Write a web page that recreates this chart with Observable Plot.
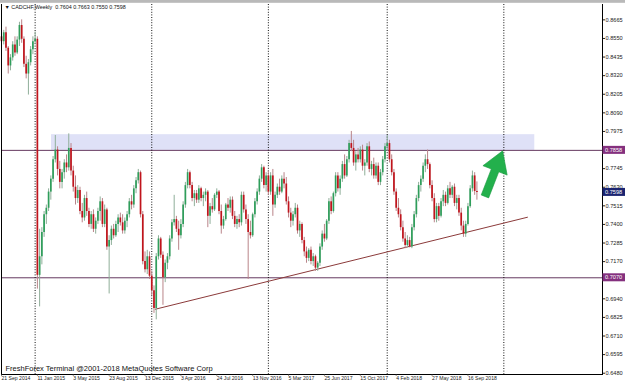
<!DOCTYPE html>
<html><head><meta charset="utf-8">
<script src="https://cdn.jsdelivr.net/npm/d3@7"></script>
<script src="https://cdn.jsdelivr.net/npm/@observablehq/plot@0.6"></script>
<style>html,body{margin:0;padding:0;background:#fff;overflow:hidden}#chart svg{display:block}</style>
</head><body><div id="chart"></div>
<script>
// Weekly candles, index 0 = week of 21 Sep 2014
const O = [
.8560,.8530,.8585,.8490,.8380,.8430,.8510,.8460,.8540,.8630,
.8545,.8390,.8330,.8400,.8480,.8530,.8545,.7085,.7200,.7350,
.7460,.7500,.7600,.7680,.7800,.7860,.7740,.7660,.7720,.7780,
.7750,.7870,.7730,.7630,.7560,.7610,.7480,.7440,.7560,.7480,
.7400,.7460,.7370,.7420,.7480,.7540,.7400,.7490,.7260,.7300,
.7370,.7330,.7400,.7440,.7410,.7360,.7420,.7460,.7540,.7520,
.7620,.7670,.7720,.7460,.7170,.7120,.7200,.7080,.6990,.6880,
.7200,.7310,.7210,.7070,.7160,.7200,.7310,.7410,.7430,.7370,
.7330,.7400,.7520,.7640,.7720,.7640,.7560,.7590,.7550,.7620,
.7560,.7580,.7600,.7450,.7510,.7490,.7580,.7600,.7480,.7390,
.7430,.7520,.7500,.7550,.7450,.7400,.7430,.7410,.7580,.7490,
.7430,.7350,.7330,.7460,.7540,.7600,.7680,.7750,.7640,.7700,
.7600,.7700,.7520,.7580,.7630,.7600,.7680,.7650,.7540,.7470,
.7420,.7460,.7500,.7360,.7400,.7300,.7230,.7190,.7240,.7170,
.7200,.7130,.7160,.7260,.7340,.7310,.7420,.7540,.7480,.7590,
.7700,.7620,.7680,.7770,.7700,.7800,.7900,.7870,.7780,.7830,
.7800,.7860,.7760,.7780,.7880,.7740,.7770,.7700,.7760,.7660,
.7720,.7800,.7880,.7900,.7800,.7720,.7600,.7500,.7460,.7380,
.7310,.7270,.7300,.7260,.7380,.7460,.7560,.7640,.7680,.7760,
.7800,.7770,.7640,.7560,.7430,.7510,.7450,.7540,.7580,.7530,
.7620,.7580,.7630,.7530,.7560,.7470,.7390,.7340,.7400,.7510,
.7620,.7700,.7604];
const H = [
.8610,.8600,.8620,.8500,.8450,.8530,.8560,.8560,.8650,.8665,
.8560,.8440,.8420,.8500,.8560,.8590,.8560,.7370,.7380,.7480,
.7520,.7620,.7700,.7820,.7950,.7880,.7790,.7740,.7800,.7830,
.7960,.7900,.7760,.7700,.7640,.7630,.7530,.7580,.7600,.7500,
.7480,.7490,.7440,.7500,.7570,.7560,.7520,.7500,.7330,.7390,
.7400,.7420,.7460,.7470,.7460,.7440,.7480,.7560,.7580,.7640,
.7690,.7740,.7730,.7480,.7230,.7240,.7230,.7110,.7020,.7220,
.7330,.7320,.7230,.7180,.7220,.7330,.7430,.7580,.7450,.7420,
.7430,.7540,.7660,.7740,.7730,.7660,.7610,.7610,.7640,.7630,
.7600,.7620,.7610,.7530,.7560,.7590,.7620,.7610,.7520,.7450,
.7530,.7560,.7570,.7570,.7480,.7450,.7460,.7600,.7600,.7520,
.7460,.7420,.7470,.7560,.7620,.7700,.7770,.7760,.7720,.7730,
.7720,.7740,.7600,.7650,.7680,.7700,.7720,.7690,.7570,.7500,
.7480,.7530,.7520,.7420,.7410,.7320,.7260,.7250,.7260,.7220,
.7210,.7170,.7280,.7360,.7400,.7430,.7560,.7570,.7600,.7720,
.7720,.7700,.7790,.7830,.7820,.7920,.7975,.7920,.7850,.7870,
.7880,.7890,.7800,.7900,.7910,.7790,.7810,.7780,.7780,.7740,
.7820,.7900,.7950,.7920,.7830,.7740,.7620,.7560,.7490,.7420,
.7350,.7330,.7320,.7400,.7480,.7580,.7660,.7700,.7780,.7830,
.7860,.7780,.7670,.7590,.7530,.7530,.7560,.7610,.7600,.7640,
.7660,.7640,.7650,.7580,.7580,.7500,.7420,.7420,.7530,.7640,
.7730,.7720,.7663];
const L = [
.8500,.8510,.8470,.8330,.8350,.8410,.8440,.8450,.8500,.8520,
.8370,.8300,.8200,.8380,.8450,.8510,.7000,.6890,.7150,.7320,
.7400,.7480,.7550,.7660,.7780,.7700,.7620,.7620,.7680,.7720,
.7730,.7700,.7600,.7520,.7530,.7460,.7410,.7420,.7450,.7380,
.7370,.7350,.7340,.7400,.7420,.7380,.7380,.7240,.6970,.7270,
.7310,.7320,.7350,.7390,.7340,.7340,.7380,.7440,.7490,.7500,
.7590,.7650,.7440,.7150,.7100,.7090,.7060,.6960,.6850,.6810,
.7180,.7190,.6900,.7040,.7120,.7180,.7290,.7390,.7350,.7240,
.7310,.7380,.7500,.7620,.7620,.7540,.7510,.7530,.7530,.7540,
.7510,.7540,.7380,.7400,.7470,.7480,.7560,.7460,.7340,.7370,
.7420,.7480,.7470,.7430,.7380,.7370,.7380,.7390,.7470,.7400,
.7060,.7310,.7320,.7440,.7520,.7580,.7660,.7620,.7600,.7580,
.7580,.7450,.7500,.7560,.7580,.7590,.7620,.7520,.7440,.7380,
.7390,.7440,.7340,.7320,.7280,.7200,.7160,.7170,.7150,.7140,
.7110,.7110,.7140,.7240,.7290,.7300,.7400,.7460,.7470,.7570,
.7600,.7580,.7660,.7680,.7690,.7780,.7850,.7760,.7730,.7780,
.7780,.7730,.7700,.7760,.7720,.7700,.7680,.7680,.7640,.7640,
.7700,.7780,.7850,.7780,.7700,.7580,.7480,.7440,.7360,.7290,
.7250,.7255,.7255,.7250,.7360,.7440,.7540,.7600,.7660,.7720,
.7740,.7620,.7540,.7410,.7410,.7420,.7440,.7510,.7510,.7520,
.7560,.7560,.7510,.7490,.7450,.7360,.7320,.7320,.7390,.7500,
.7600,.7580,.7550];
const C = [
.8530,.8585,.8490,.8380,.8430,.8510,.8460,.8540,.8630,.8545,
.8390,.8330,.8400,.8480,.8530,.8545,.7085,.7200,.7350,.7460,
.7500,.7600,.7680,.7800,.7860,.7740,.7660,.7720,.7780,.7750,
.7870,.7730,.7630,.7560,.7610,.7480,.7440,.7560,.7480,.7400,
.7460,.7370,.7420,.7480,.7540,.7400,.7490,.7260,.7300,.7370,
.7330,.7400,.7440,.7410,.7360,.7420,.7460,.7540,.7520,.7620,
.7670,.7720,.7460,.7170,.7120,.7200,.7080,.6990,.6880,.7200,
.7310,.7210,.7070,.7160,.7200,.7310,.7410,.7430,.7370,.7330,
.7400,.7520,.7640,.7720,.7640,.7560,.7590,.7550,.7620,.7560,
.7580,.7600,.7450,.7510,.7490,.7580,.7600,.7480,.7390,.7430,
.7520,.7500,.7550,.7450,.7400,.7430,.7410,.7580,.7490,.7430,
.7350,.7330,.7460,.7540,.7600,.7680,.7750,.7640,.7700,.7600,
.7700,.7520,.7580,.7630,.7600,.7680,.7650,.7540,.7470,.7420,
.7460,.7500,.7360,.7400,.7300,.7230,.7190,.7240,.7170,.7200,
.7130,.7160,.7260,.7340,.7310,.7420,.7540,.7480,.7590,.7700,
.7620,.7680,.7770,.7700,.7800,.7900,.7870,.7780,.7830,.7800,
.7860,.7760,.7780,.7880,.7740,.7770,.7700,.7760,.7660,.7720,
.7800,.7880,.7900,.7800,.7720,.7600,.7500,.7460,.7380,.7310,
.7270,.7300,.7260,.7380,.7460,.7560,.7640,.7680,.7760,.7800,
.7770,.7640,.7560,.7430,.7510,.7450,.7540,.7580,.7530,.7620,
.7580,.7630,.7530,.7560,.7470,.7390,.7340,.7400,.7510,.7620,
.7700,.7604,.7598];

const dateTicks  = [0,16,32,48,64,80,96,112,128,144,160,176,192,208];
const dateLabels = ["21 Sep 2014","11 Jan 2015","3 May 2015","23 Aug 2015","13 Dec 2015","3 Apr 2016","24 Jul 2016","13 Nov 2016","5 Mar 2017","25 Jun 2017","15 Oct 2017","4 Feb 2018","27 May 2018","16 Sep 2018"];
// price scale labels (0.7055 and 0.7860 are hidden under the level boxes)
const yTicks = [0.6480,0.6595,0.6710,0.6825,0.6940,0.7170,0.7285,0.7400,0.7515,0.7630,0.7745,0.7975,0.8090,0.8205,0.8320,0.8435,0.8550,0.8665];
const separators = [15,67,119,172,224];          // first weekly bar of each year
const levels = [0.7858, 0.7070];                // horizontal lines
const zone = {i1: 22.3, i2: 237.8, p1: 0.7858, p2: 0.7955};   // resistance box
const trend = {i1: 68.4, p1: 0.6875, i2: 234.7, p2: 0.7445};  // rising support
const arrowPts = {i1: 215.8, p1: 0.7570, i2: 223.7, p2: 0.7852};
const last = C.length - 1;
const title = "\u25BC CADCHF,Weekly  " + [O[last],H[last],L[last],C[last]].map(v=>v.toFixed(4)).join(" ");
const caption = "FreshForex Terminal @2001-2018 MetaQuotes Software Corp";

const candles = C.map((c,i)=>({i, o:O[i], h:H[i], l:L[i], c, up: c >= O[i]}));
const bullBody="#2f9e5b", bearBody="#c0141c", bullWick="#8fae99", bearWick="#b98489";
const priceBoxes = [
  {p: levels[0], color: "#84307e"},
  {p: C[last], color: "#1b2470"},
  {p: levels[1], color: "#84307e"}
];

function topBand(index, scales, values, dims) {
  const g = d3.create("svg:g");
  g.append("rect").attr("x",0).attr("y",0).attr("width",dims.width).attr("height",2.8).attr("fill","#b9b9b9");
  return g.node();
}
function arrowMark(index, scales) {
  const x0 = scales.x(arrowPts.i1), y0 = scales.y(arrowPts.p1);
  const x1 = scales.x(arrowPts.i2), y1 = scales.y(arrowPts.p2);
  const dx = x1-x0, dy = y1-y0, len = Math.hypot(dx,dy);
  const ux = dx/len, uy = dy/len, nx = -uy, ny = ux;
  const headL = 21, headW = 13, sw = 4;
  const bx = x1-ux*headL, by = y1-uy*headL;
  const pts = [[x0+nx*sw,y0+ny*sw],[bx+nx*sw,by+ny*sw],[bx+nx*headW,by+ny*headW],[x1,y1],
               [bx-nx*headW,by-ny*headW],[bx-nx*sw,by-ny*sw],[x0-nx*sw,y0-ny*sw]];
  const g = d3.create("svg:g");
  g.append("polygon").attr("points", pts.map(p=>p.join(",")).join(" "))
    .attr("fill","#23b04c").attr("stroke","#1a9a3f").attr("stroke-width",0.6);
  return g.node();
}
function boxMark(index, scales, values, dims) {
  const g = d3.create("svg:g");
  const x = dims.width - dims.marginRight;
  for (const b of priceBoxes) {
    const y = scales.y(b.p);
    g.append("rect").attr("x", x+0.5).attr("y", y-4).attr("width", dims.marginRight).attr("height", 8).attr("fill", b.color);
    g.append("text").attr("x", x+3).attr("y", y).attr("dy","0.36em").attr("fill","#fff")
      .attr("text-anchor","start")
      .attr("font-size",5.6).attr("font-family","Liberation Sans, Arial, sans-serif").text(b.p.toFixed(4));
  }
  return g.node();
}

const chart = Plot.plot({
  width: 625, height: 385,
  marginTop: 4, marginBottom: 11, marginLeft: 1, marginRight: 23,
  x: {domain: [0, 268], label: null},
  y: {domain: [0.6472, 0.8760], label: null},
  style: {fontFamily: "Liberation Sans, Arial, sans-serif", background: "#fff", color: "#222"},
  marks: [
    Plot.rect([zone], {x1: "i1", x2: "i2", y1: "p1", y2: "p2", fill: "#dfe1f7"}),
    Plot.ruleY(levels, {stroke: "#65395f", strokeWidth: 1}),
    Plot.ruleX(separators, {stroke: "#111", strokeDasharray: "1,1.6", strokeWidth: 1}),
    Plot.link([trend], {x1: "i1", y1: "p1", x2: "i2", y2: "p2", stroke: "#8b3a3a", strokeWidth: 1}),
    Plot.ruleX(candles, {x: "i", y1: "l", y2: "h", stroke: d => d.up ? bullWick : bearWick, strokeWidth: 1}),
    Plot.ruleX(candles, {x: "i", y1: "o", y2: "c", stroke: d => d.up ? bullBody : bearBody, strokeWidth: 1.7}),
    Plot.frame({anchor: "left", stroke: "#000"}),
    Plot.frame({anchor: "right", stroke: "#000"}),
    Plot.frame({anchor: "bottom", stroke: "#000"}),
    Plot.axisY({anchor: "right", ticks: yTicks, tickFormat: d => d.toFixed(4), tickSize: 2, tickPadding: 1, fontSize: 5.6, label: null, color: "#222"}),
    Plot.axisX({anchor: "bottom", ticks: dateTicks, tickFormat: d => dateLabels[dateTicks.indexOf(d)], tickSize: 1.5, tickPadding: 0.5, textAnchor: "start", fontSize: 5.1, label: null, color: "#222"}),
    arrowMark,
    boxMark,
    topBand,
    Plot.text([title], {frameAnchor: "top-left", dx: 3, dy: 1, lineAnchor: "top", textAnchor: "start", fontSize: 5.4, fill: "#111"}),
    Plot.text([caption], {frameAnchor: "bottom-left", dx: 4, dy: -4, lineAnchor: "bottom", textAnchor: "start", fontSize: 7.5, fill: "#111"})
  ]
});
document.getElementById("chart").appendChild(chart);
</script></body></html>
